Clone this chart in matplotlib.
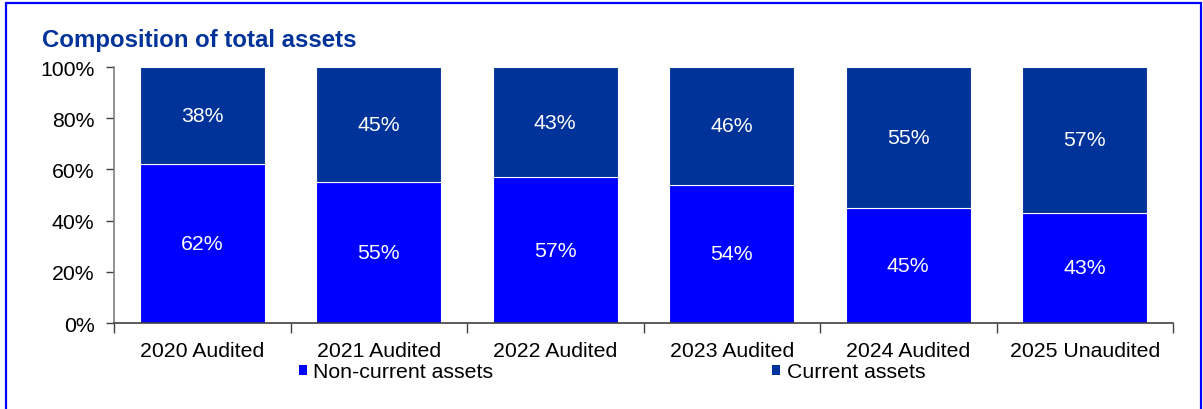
import matplotlib
matplotlib.use("Agg")
import matplotlib.pyplot as plt
from matplotlib.patches import Rectangle, Patch
import numpy as np

plt.rcParams['font.family'] = ['Liberation Sans', 'DejaVu Sans']

categories = ["2020 Audited", "2021 Audited", "2022 Audited",
              "2023 Audited", "2024 Audited", "2025 Unaudited"]
non_current = [62, 55, 57, 54, 45, 43]
current = [38, 45, 43, 46, 55, 57]
y_ticks = [0, 20, 40, 60, 80, 100]

NON_CURRENT_COLOR = "#0000FF"
CURRENT_COLOR = "#003399"
W, H = 1203, 410
FS = 15.3

fig = plt.figure(figsize=(W / 100, H / 100), dpi=100)
ax = fig.add_axes([114 / W, 1 - 324 / H, (1173 - 114) / W, (324 - 68) / H])

x = np.arange(len(categories))
bw = 0.71
ax.bar(x, non_current, bw, color=NON_CURRENT_COLOR, edgecolor="white",
       linewidth=0.8, label="Non-current assets")
ax.bar(x, current, bw, bottom=non_current, color=CURRENT_COLOR,
       edgecolor="white", linewidth=0.8, label="Current assets")

for xi, nc, c in zip(x, non_current, current):
    ax.text(xi, nc / 2, f"{nc}%", ha="center", va="center",
            color="white", fontsize=FS)
    ax.text(xi, nc + c / 2, f"{c}%", ha="center", va="center",
            color="white", fontsize=FS)

ax.set_xlim(-0.5, len(categories) - 0.5)
ax.set_ylim(0, 100)
ax.set_yticks(y_ticks)
ax.set_yticklabels([f"{v}%" for v in y_ticks], fontsize=FS)
ax.set_xticks(x)
ax.set_xticklabels(categories, fontsize=FS)
ax.tick_params(axis="x", length=0, pad=13)
ax.set_xticks(np.arange(len(categories) + 1) - 0.5, minor=True)
ax.tick_params(axis="x", which="minor", length=7, width=1, color="#404040",
               direction="out")
ax.tick_params(axis="y", length=6, width=1, color="#404040",
               direction="out", pad=8)

for side in ("top", "right"):
    ax.spines[side].set_visible(False)
ax.spines["left"].set_color("#808080")
ax.spines["left"].set_linewidth(1.2)
ax.spines["bottom"].set_color("#404040")
ax.spines["bottom"].set_linewidth(1.2)

handles = [Patch(facecolor=NON_CURRENT_COLOR, label="Non-current assets"),
           Patch(facecolor=CURRENT_COLOR, label="Current assets")]
fig.legend(handles=handles, loc="center", ncol=2,
           bbox_to_anchor=(612 / W, 1 - 373 / H), frameon=False,
           fontsize=FS, handlelength=0.4, handleheight=0.4,
           handletextpad=0.3, columnspacing=13.1, borderpad=0)

fig.text(42 / W, 1 - 41 / H, "Composition of total assets", fontsize=17.3,
         fontweight="bold", color=CURRENT_COLOR, ha="left", va="center")

fig.patches.append(Rectangle((6 / W, -0.1), (1201 - 6) / W, 1.1 - 4 / H,
                             transform=fig.transFigure, fill=False,
                             edgecolor="#0000FF", linewidth=1.6))

fig.savefig("out.png", dpi=100)
